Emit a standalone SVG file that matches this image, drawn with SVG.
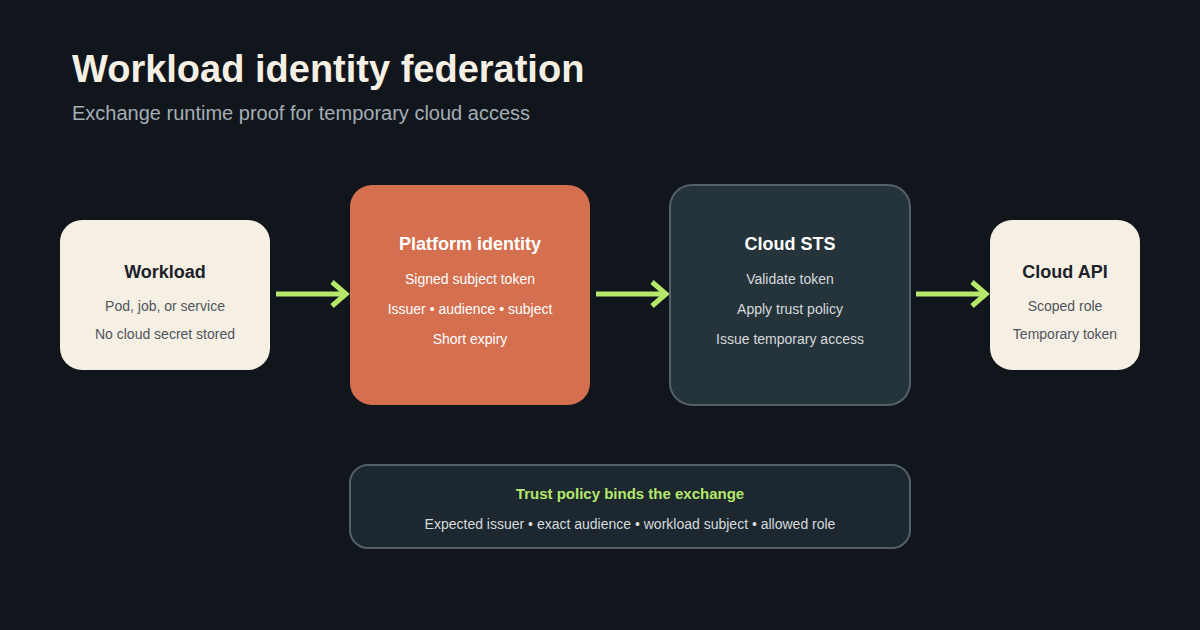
<svg xmlns="http://www.w3.org/2000/svg" width="1200" height="630" viewBox="0 0 1200 630">
<style>
text{font-family:"Liberation Sans",Arial,sans-serif;text-anchor:middle}
.t{font-size:18px;font-weight:bold}
.s{font-size:14px}
.c{stroke:#b5e86a;stroke-width:5;fill:none;stroke-linecap:butt}
</style>
<rect width="1200" height="630" fill="#10161c"/>
<text x="72" y="82" style="text-anchor:start;font-size:38px;font-weight:bold" fill="#f6efe4">Workload identity federation</text>
<text x="72" y="120" style="text-anchor:start;font-size:20px" fill="#a5adb5">Exchange runtime proof for temporary cloud access</text>
<g id="connectors">
<path class="c" d="M276 294H346M332 282L346 294L332 306"/>
<path class="c" d="M596 294H666M652 282L666 294L652 306"/>
<path class="c" d="M916 294H986M972 282L986 294L972 306"/>
</g>
<g id="workload">
<rect x="60" y="220" width="210" height="150" rx="22" fill="#f6efe4"/>
<text x="165" y="278" class="t" fill="#1b222a">Workload</text>
<text x="165" y="311" class="s" fill="#4e555c">Pod, job, or service</text>
<text x="165" y="339" class="s" fill="#4e555c">No cloud secret stored</text>
</g>
<g id="platform">
<rect x="350" y="185" width="240" height="220" rx="22" fill="#d4704f"/>
<text x="470" y="250" class="t" fill="#fff">Platform identity</text>
<text x="470" y="284" class="s" fill="#fff">Signed subject token</text>
<text x="470" y="314" class="s" fill="#fff">Issuer • audience • subject</text>
<text x="470" y="344" class="s" fill="#fff">Short expiry</text>
</g>
<g id="sts">
<rect x="670" y="185" width="240" height="220" rx="22" fill="#25333b" stroke="#536068" stroke-width="2"/>
<text x="790" y="250" class="t" fill="#fff">Cloud STS</text>
<text x="790" y="284" class="s" fill="#d6dadd">Validate token</text>
<text x="790" y="314" class="s" fill="#d6dadd">Apply trust policy</text>
<text x="790" y="344" class="s" fill="#d6dadd">Issue temporary access</text>
</g>
<g id="api">
<rect x="990" y="220" width="150" height="150" rx="22" fill="#f6efe4"/>
<text x="1065" y="278" class="t" fill="#1b222a">Cloud API</text>
<text x="1065" y="311" class="s" fill="#4e555c">Scoped role</text>
<text x="1065" y="339" class="s" fill="#4e555c">Temporary token</text>
</g>
<g id="policy">
<rect x="350" y="465" width="560" height="83" rx="18" fill="#1c2730" stroke="#536068" stroke-width="2"/>
<text x="630" y="499" style="font-size:15px;font-weight:bold" fill="#b5e86a">Trust policy binds the exchange</text>
<text x="630" y="529" class="s" fill="#d6dadd">Expected issuer • exact audience • workload subject • allowed role</text>
</g>
</svg>
